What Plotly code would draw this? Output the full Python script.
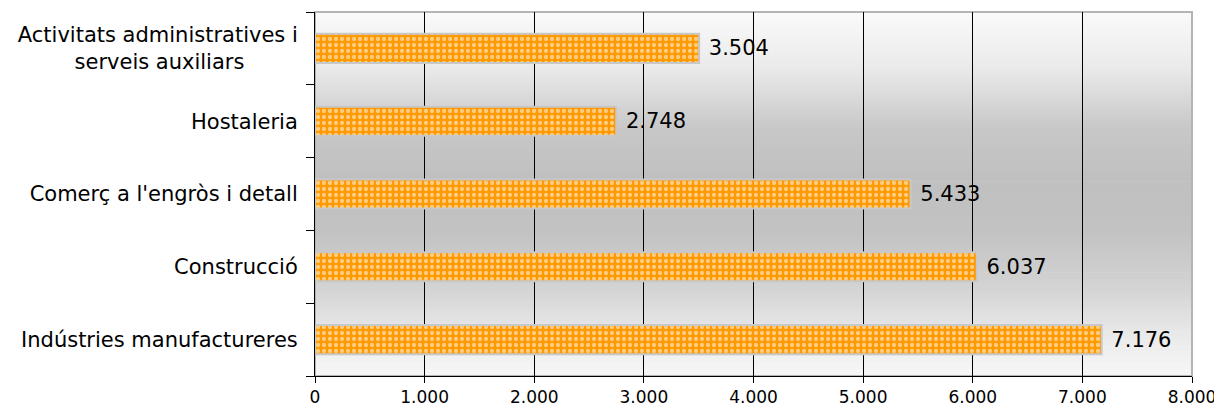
import plotly.graph_objects as go

categories = [
    "Indústries manufactureres",
    "Construcció",
    "Comerç a l'engròs i detall",
    "Hostaleria",
    "Activitats administratives i<br>serveis auxiliars" + "\u00a0" * 8,
]
values = [7176, 6037, 5433, 2748, 3504]
x_ticks = [0, 1000, 2000, 3000, 4000, 5000, 6000, 7000, 8000]

FONT = "DejaVu Sans, Verdana, sans-serif"

fig = go.Figure()
fig.add_trace(go.Bar(
    y=categories,
    x=values,
    orientation="h",
    width=0.4,
    marker=dict(
        color="#FF9900",
        line=dict(color="#C8C8C8", width=2),
        pattern=dict(shape=".", fgcolor="white", bgcolor="#FF9900", size=6, solidity=0.4),
    ),
    text=values,
    texttemplate=" %{x:,d}",
    textposition="outside",
    textfont=dict(family=FONT, size=21, color="black"),
    cliponaxis=False,
))

# gradient background (top -> bottom gray levels)
stops = [(0.0, 250), (0.15, 235), (0.32, 200), (0.45, 192), (0.6, 194), (0.75, 210), (0.9, 235), (1.0, 247)]
def level(t):
    for (a, va), (b, vb) in zip(stops, stops[1:]):
        if a <= t <= b:
            return va + (vb - va) * (t - a) / (b - a)
    return stops[-1][1]
shapes = []
n = 120
for i in range(n):
    t0 = i / n
    t1 = (i + 1) / n
    v = int(round(level((t0 + t1) / 2)))
    col = f"rgb({v},{v},{v})"
    shapes.append(dict(type="rect", xref="x domain", yref="y domain",
                       x0=0, x1=1, y0=1 - t1, y1=1 - t0 + 0.002, fillcolor=col,
                       line=dict(width=0), layer="below"))
shapes.append(dict(type="rect", xref="x domain", yref="y domain",
                   x0=0, x1=1, y0=0, y1=1, fillcolor="rgba(0,0,0,0)",
                   line=dict(color="#B4B4B4", width=2), layer="below"))
fig.update_layout(shapes=shapes)

fig.update_layout(
    width=1222, height=410,
    margin=dict(l=307, r=38, t=4, b=42, autoexpand=False),
    paper_bgcolor="white",
    plot_bgcolor="rgba(0,0,0,0)",
    separators=",.",
    showlegend=False,
    font=dict(family=FONT, color="black"),
)
fig.update_xaxes(
    range=[0, 8000],
    tickvals=x_ticks,
    tickformat=",d",
    showgrid=True, gridcolor="black", gridwidth=1,
    zeroline=False,
    showline=True, linecolor="black", linewidth=1,
    ticks="outside", ticklen=6, tickcolor="black",
    tickfont=dict(family=FONT, size=17, color="black"),
    automargin=False,
)
fig.update_yaxes(
    type="category",
    categoryorder="array", categoryarray=categories,
    showgrid=False,
    showline=True, linecolor="black", linewidth=1,
    ticks="outside", ticklen=8, tickcolor="black",
    tickson="boundaries",
    tickfont=dict(family=FONT, size=21, color="black"),
    ticklabelstandoff=12,
    automargin=False,
)

fig.write_html("out.html")
